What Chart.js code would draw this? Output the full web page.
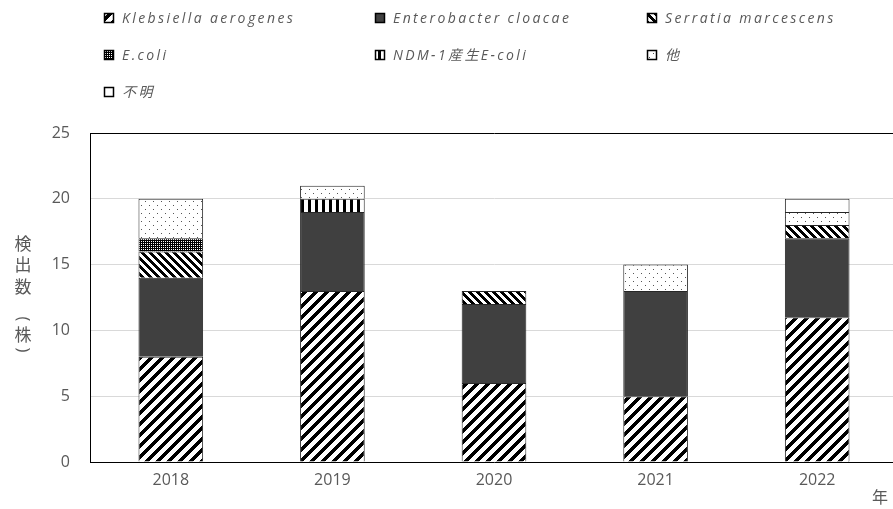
<!DOCTYPE html>
<html>
<head>
<meta charset="utf-8">
<script src="https://cdn.jsdelivr.net/npm/chart.js@4.4.1/dist/chart.umd.min.js"></script>
<style>
  html, body { margin: 0; padding: 0; background: #fff; overflow: hidden; }
  #wrap { position: relative; width: 898px; height: 509px; }
</style>
</head>
<body>
<div id="wrap"><canvas id="chart" width="898" height="509"></canvas></div>
<script>
// データ（年別・菌種別の検出数）
const years = ["2018", "2019", "2020", "2021", "2022"];
const klebsiella = [8, 13, 6, 5, 11];
const enterobacter = [6, 6, 6, 8, 6];
const serratia = [2, 0, 1, 0, 1];
const ecoli = [1, 0, 0, 0, 0];
const ndm1 = [0, 1, 0, 0, 0];
const others = [3, 1, 0, 2, 1];
const unknown = [0, 0, 0, 0, 1];
const seriesNames = ["Klebsiella aerogenes", "Enterobacter cloacae", "Serratia marcescens",
  "E.coli", "NDM-1産生E-coli", "他", "不明"];
const yTitle = "検出数（株）";
const xTitle = "年";

const textColor = "#595959";

// ピクセル単位で模様タイルを作る
function makePattern(w, h, pick) {
  const c = document.createElement("canvas");
  c.width = w;
  c.height = h;
  const g = c.getContext("2d");
  for (let x = 0; x < w; x++) {
    for (let y = 0; y < h; y++) {
      g.fillStyle = pick(x, y);
      g.fillRect(x, y, 1, 1);
    }
  }
  return g.createPattern(c, "repeat");
}

const fills = [
  makePattern(11, 11, (x, y) => ((x + y) % 11 < 5 ? "#000" : "#fff")),          // 太い斜線
  "#404040",                                                                   // 塗りつぶし
  makePattern(8, 8, (x, y) => (((x - y + 16) % 8) < 4 ? "#000" : "#fff")),      // 細い逆斜線
  makePattern(4, 4, (x, y) => ((x + y) % 2 === 0 && x % 2 === 1 ? "#fff" : "#000")), // 黒地に白点
  makePattern(7, 1, (x) => (x < 3 ? "#000" : "#fff")),                          // 縦線
  makePattern(8, 8, (x, y) => ((x === 1 && y === 1) || (x === 5 && y === 5) ? "#555" : "#fff")), // 点
  "#ffffff"
];

const seriesData = [klebsiella, enterobacter, serratia, ecoli, ndm1, others, unknown];

const datasets = seriesData.map((arr, i) => ({
  label: seriesNames[i],
  data: arr.map(v => (v === 0 ? null : v)),
  backgroundColor: fills[i],
  borderColor: "#262626",
  borderWidth: 1,
  categoryPercentage: 1,
  barPercentage: 0.4
}));

// 凡例（3列）
const legendPlugin = {
  id: "gridLegend",
  afterDraw(chart) {
    const ctx = chart.ctx;
    const colX = [104, 375, 647];
    const rowY = [18, 55, 92];
    ctx.save();
    ctx.font = "italic 14px 'Open Sans', 'Noto Sans CJK JP', sans-serif";
    ctx.letterSpacing = "2.4px";
    ctx.textBaseline = "middle";
    seriesNames.forEach((name, i) => {
      const x = colX[i % 3];
      const y = rowY[Math.floor(i / 3)];
      ctx.fillStyle = fills[i];
      ctx.fillRect(x, y - 5, 10, 10);
      ctx.strokeStyle = "#000";
      ctx.lineWidth = 1.5;
      ctx.strokeRect(x + 0.5, y - 4.5, 9, 9);
      ctx.fillStyle = textColor;
      ctx.fillText(name, x + 18, y + 1);
    });
    ctx.restore();
  }
};

// 縦書きの軸タイトルと「年」
const titlePlugin = {
  id: "axisTitles",
  afterDraw(chart) {
    const ctx = chart.ctx;
    ctx.save();
    ctx.fillStyle = textColor;
    ctx.font = "17px 'Noto Sans CJK JP', sans-serif";
    ctx.textAlign = "center";
    ctx.textBaseline = "middle";
    const ys = [244, 265, 287, 319, 335, 350];
    Array.from(yTitle).forEach((ch, i) => {
      if (ch === "（" || ch === "）") {
        // 縦書きの括弧は90度回転して描く
        ctx.save();
        ctx.translate(23, ys[i]);
        ctx.rotate(Math.PI / 2);
        ctx.font = "16px 'Noto Sans', sans-serif";
        ctx.fillText(ch === "（" ? "(" : ")", 0, 0);
        ctx.restore();
      } else {
        ctx.fillText(ch, 23, ys[i]);
      }
    });
    ctx.font = "16px 'Noto Sans CJK JP', sans-serif";
    ctx.fillText(xTitle, 880, 497);
    ctx.restore();
  }
};

new Chart(document.getElementById("chart"), {
  type: "bar",
  data: { labels: years, datasets },
  options: {
    responsive: false,
    animation: false,
    layout: { padding: { top: 133, left: 0, right: 0, bottom: 0 } },
    plugins: {
      legend: { display: false },
      tooltip: { enabled: false }
    },
    scales: {
      x: {
        stacked: true,
        grid: { display: false, drawTicks: false },
        border: { display: true, color: "#000", width: 1 },
        ticks: {
          color: textColor,
          font: { family: "'Open Sans', sans-serif", size: 16 },
          padding: 9
        },
        afterFit: s => { s.height = 47; }
      },
      y: {
        stacked: true,
        min: 0,
        max: 25,
        grid: {
          drawTicks: false,
          color: c => (c.tick && c.tick.value === 25 ? "#000" : "#d9d9d9"),
          lineWidth: 1
        },
        border: { display: true, color: "#000", width: 1 },
        ticks: {
          stepSize: 5,
          color: textColor,
          font: { family: "'Open Sans', sans-serif", size: 16 },
          padding: 20
        },
        afterFit: s => { s.width = 90; }
      }
    }
  },
  plugins: [legendPlugin, titlePlugin]
});
</script>
</body>
</html>
